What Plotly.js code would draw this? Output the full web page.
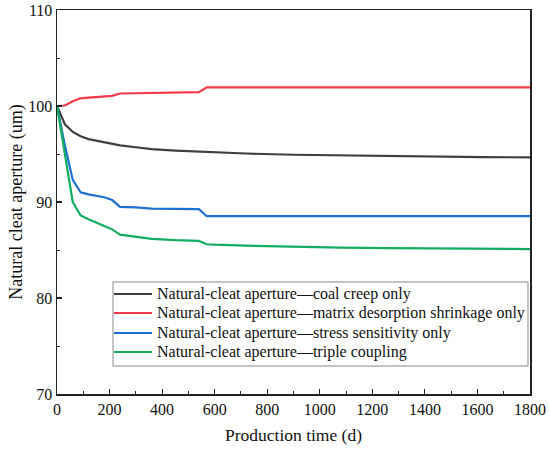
<!DOCTYPE html>
<html>
<head>
<meta charset="utf-8">
<script src="https://cdn.plot.ly/plotly-3.0.1.min.js"></script>
<style>html,body{margin:0;padding:0;background:#fff;}#chart{width:550px;height:450px;}</style>
</head>
<body>
<div id="chart"></div>
<script>
var times = [0, 30, 60, 90, 120, 180, 210, 240, 300, 360, 450, 540, 570, 600, 720, 900, 1080, 1260, 1440, 1620, 1800];
var coalCreep = [100, 98.1, 97.3, 96.85, 96.55, 96.2, 96.05, 95.9, 95.7, 95.5, 95.35, 95.25, 95.2, 95.15, 95.05, 94.92, 94.85, 94.78, 94.72, 94.68, 94.65];
var desorption = [100, 100.05, 100.5, 100.8, 100.88, 100.95, 101.05, 101.3, 101.33, 101.38, 101.4, 101.45, 101.95, 101.95, 101.95, 101.95, 101.95, 101.95, 101.95, 101.95, 101.95];
var stress = [100, 95.9, 92.3, 91.0, 90.8, 90.5, 90.2, 89.5, 89.45, 89.3, 89.28, 89.25, 88.52, 88.52, 88.52, 88.52, 88.52, 88.52, 88.52, 88.52, 88.52];
var triple = [100, 95.0, 90.0, 88.6, 88.2, 87.5, 87.15, 86.6, 86.35, 86.15, 86.02, 85.95, 85.6, 85.55, 85.45, 85.32, 85.25, 85.2, 85.15, 85.12, 85.1];
var seriesNames = [
  "Natural-cleat aperture\u2014coal creep only",
  "Natural-cleat aperture\u2014matrix desorption shrinkage only",
  "Natural-cleat aperture\u2014stress sensitivity only",
  "Natural-cleat aperture\u2014triple coupling"
];
var seriesColors = ["#3f3f3f", "#f43a48", "#1f6fd1", "#12ad5f"];
var seriesData = [coalCreep, desorption, stress, triple];
var xTicks = [0, 200, 400, 600, 800, 1000, 1200, 1400, 1600, 1800];
var yTicks = [70, 80, 90, 100, 110];

var traces = seriesData.map(function (ys, i) {
  return {
    x: times, y: ys, type: "scatter", mode: "lines",
    name: seriesNames[i], showlegend: false,
    line: {color: seriesColors[i], width: 2.2}
  };
});

var fam = "Liberation Serif";

// legend box drawn in paper coordinates
var legBox = {x0: 0.1184, x1: 0.9958, y0: 0.0729, y1: 0.2917};
var legRows = [0.2604, 0.2109, 0.1589, 0.1094];
var shapes = [{
  type: "rect", xref: "paper", yref: "paper",
  x0: legBox.x0, x1: legBox.x1, y0: legBox.y0, y1: legBox.y1,
  line: {color: "#888", width: 1}, fillcolor: "#fff", layer: "above"
}];
var annotations = [];
seriesNames.forEach(function (nm, i) {
  shapes.push({
    type: "line", xref: "paper", yref: "paper",
    x0: 0.1205, x1: 0.2008, y0: legRows[i], y1: legRows[i],
    line: {color: seriesColors[i], width: 2.2}, layer: "above"
  });
  annotations.push({
    xref: "paper", yref: "paper", x: 0.2073, y: legRows[i],
    xanchor: "left", yanchor: "middle", showarrow: false, text: nm,
    font: {family: fam, size: 16, color: "#111"}
  });
});

var axisCommon = {
  showline: true, mirror: true, linecolor: "#222", linewidth: 1.5,
  ticks: "inside", ticklen: 5, tickwidth: 1.2, tickcolor: "#222",
  showgrid: false, zeroline: false,
  tickfont: {family: fam, size: 16, color: "#111"}
};
var layout = {
  width: 550, height: 450,
  margin: {l: 57, r: 20, t: 10, b: 56},
  paper_bgcolor: "#fff", plot_bgcolor: "#fff",
  font: {family: fam, color: "#111"},
  showlegend: false,
  shapes: shapes,
  annotations: annotations,
  xaxis: Object.assign({}, axisCommon, {
    range: [0, 1800], tickvals: xTicks, ticktext: xTicks.map(String),
    minor: {dtick: 100, ticks: "inside", ticklen: 3, tickcolor: "#222", tickwidth: 1},
    title: {text: "Production time (d)", font: {family: fam, size: 17.5, color: "#111"}, standoff: 12}
  }),
  yaxis: Object.assign({}, axisCommon, {
    range: [70, 110], tickvals: yTicks, ticktext: yTicks.map(String),
    minor: {dtick: 5, ticks: "inside", ticklen: 3, tickcolor: "#222", tickwidth: 1},
    title: {text: "Natural cleat aperture (um)", font: {family: fam, size: 18, color: "#111"}, standoff: 1}
  })
};
Plotly.newPlot("chart", traces, layout, {displayModeBar: false, staticPlot: true});
</script>
</body>
</html>
